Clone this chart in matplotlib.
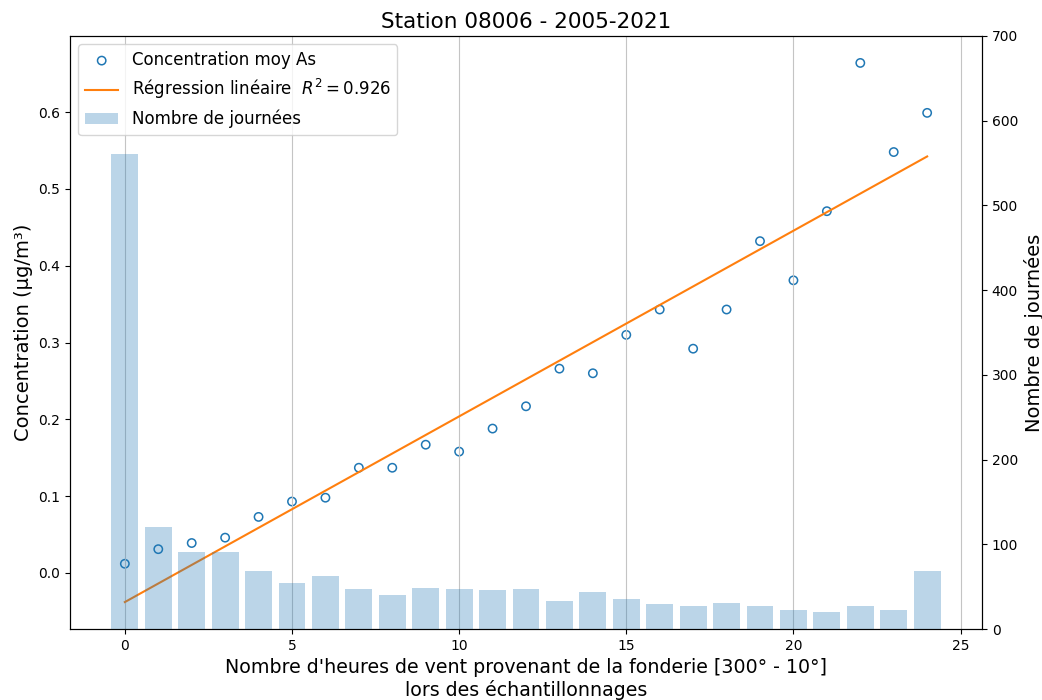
import numpy as np
import matplotlib
matplotlib.use('Agg')
import matplotlib.pyplot as plt

# Data
heures = np.arange(25)
concentration = [0.012, 0.031, 0.039, 0.046, 0.073, 0.093, 0.098, 0.137, 0.137,
                 0.167, 0.158, 0.188, 0.217, 0.266, 0.260, 0.310, 0.343, 0.292,
                 0.343, 0.432, 0.381, 0.471, 0.664, 0.548, 0.599]
nb_journees = [561, 120, 91, 91, 69, 54, 63, 47, 40, 48, 47, 46, 47, 33, 44, 35,
               30, 27, 31, 27, 22, 20, 27, 22, 69]
r2 = 0.926

# Linear regression
pente, origine = np.polyfit(heures, concentration, 1)

fig = plt.figure(figsize=(10.42, 7.0), dpi=100)
ax1 = fig.add_axes([0.0672, 0.1014, 0.8752, 0.8472])
ax2 = ax1.twinx()

sc = ax1.scatter(heures, concentration, facecolors='none', edgecolors='tab:blue',
                 s=36, linewidths=1.1, label='Concentration moy As')
ln, = ax1.plot(heures, pente * heures + origine, color='tab:orange',
               label=f'Régression linéaire  $R^2 = {r2}$')
br = ax2.bar(heures, nb_journees, alpha=0.3, color='tab:blue',
             label='Nombre de journées')

ax2.set_ylim(0, 700)
ax1.grid(axis='x', color='#c4c4c4')

ax1.set_xlabel("Nombre d'heures de vent provenant de la fonderie [300° - 10°]\nlors des échantillonnages", fontsize=13.7)
ax1.set_ylabel('Concentration (µg/m³)', fontsize=14)
ax2.set_ylabel('Nombre de journées', fontsize=14)
ax1.set_title('Station 08006 - 2005-2021', fontsize=15.5)

ax2.legend([sc, ln, br], [sc.get_label(), ln.get_label(), br.get_label()],
           loc='upper left', fontsize=12)

fig.savefig('out.png')
